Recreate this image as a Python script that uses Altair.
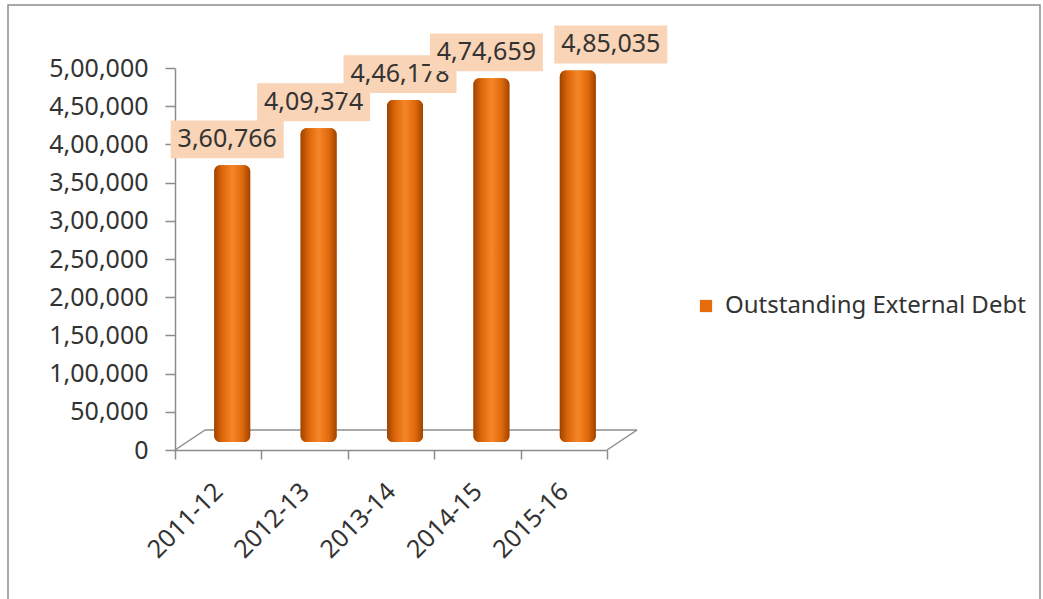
import altair as alt
import pandas as pd

years = ["2011-12", "2012-13", "2013-14", "2014-15", "2015-16"]
debt = [360766, 409374, 446178, 474659, 485035]
series_name = "Outstanding External Debt"
y_ticks = [0, 50000, 100000, 150000, 200000, 250000, 300000, 350000, 400000, 450000, 500000]

df = pd.DataFrame({"year": years, "debt": debt, "series": [series_name] * len(years)})

FONT = "Noto Sans"
TXT = "#333333"
AXIS = "#8c8c8c"


def indian(v):
    return (f"{v} >= 100000 ? floor({v}/100000) + ',' + format(floor({v}/1000) % 100, '02d') + ',' "
            f"+ format({v} % 1000, '03d') : format({v}, ',d')")


x_axis = alt.Axis(labelAngle=-45, labelAlign="right", labelBaseline="middle",
                  labelFont=FONT, labelFontSize=25, labelColor=TXT, labelPadding=28,
                  tickBand="extent", tickSize=9, tickColor=AXIS, domainColor=AXIS,
                  tickWidth=1.5, domainWidth=1.5, labelOverlap=False)
y_axis = alt.Axis(values=y_ticks, tickCount=len(y_ticks) + 1, labelExpr=indian("datum.value"),
                  labelFont=FONT, labelFontSize=25, labelColor=TXT, labelPadding=17, tickSize=10,
                  tickColor=AXIS, domainColor=AXIS, grid=False, tickWidth=1.5,
                  domainWidth=1.5, labelOverlap=False)
x_enc = alt.X("year:N", sort=years, title=None,
              scale=alt.Scale(paddingInner=0, paddingOuter=0), axis=x_axis)
y_scale = alt.Scale(domain=[0, 500000], nice=False)
y_enc = alt.Y("debt:Q", title=None, scale=y_scale, axis=y_axis)
y_bar = alt.Y("debt:Q", title=None, scale=y_scale, axis=y_axis, stack=None)
y2_bar = alt.Y2(datum=0)

deco = alt.Chart(alt.Data(values=[{}]))
frame = deco.mark_rect(fillOpacity=0, stroke="#8c8c8c", strokeWidth=1.5).encode(
    x=alt.value(-167), x2=alt.value(865), y=alt.value(-63), y2=alt.value(560))
floor_back = deco.mark_rule(color=AXIS, strokeWidth=1.5).encode(
    x=alt.value(30), x2=alt.value(462), y=alt.value(362), y2=alt.value(362))
floor_left = deco.mark_rule(color=AXIS, strokeWidth=1.5).encode(
    x=alt.value(0), x2=alt.value(30), y=alt.value(382), y2=alt.value(362))
floor_right = deco.mark_rule(color=AXIS, strokeWidth=1.5).encode(
    x=alt.value(432), x2=alt.value(462), y=alt.value(382), y2=alt.value(362))

base = alt.Chart(df)

bar_style = dict(size=36, xOffset=14, yOffset=-9, y2Offset=-8, cornerRadius=6)

bars_flat = base.mark_bar(**bar_style).encode(
    x=x_enc, y=y_bar, y2=y2_bar,
    color=alt.Color("series:N", scale=alt.Scale(range=["#E46C0A"]),
                    legend=alt.Legend(title=None, orient="none", legendX=519, legendY=226,
                                      padding=0, symbolType="square", symbolSize=150,
                                      symbolStrokeWidth=0, labelFont=FONT, labelFontSize=24,
                                      labelColor=TXT, labelOffset=7, labelLimit=400)))

gradient = alt.Gradient(
    gradient="linear", x1=0, x2=1, y1=0, y2=0,
    stops=[alt.GradientStop(color="#9E4300", offset=0),
           alt.GradientStop(color="#DC660A", offset=0.22),
           alt.GradientStop(color="#F58628", offset=0.5),
           alt.GradientStop(color="#E06A0C", offset=0.78),
           alt.GradientStop(color="#A04400", offset=1)])
bars_grad = base.mark_bar(color=gradient, **bar_style).encode(x=x_enc, y=y_bar, y2=y2_bar)

label_layers = []
for i, yr in enumerate(years):
    dx = 47 if i == len(years) - 1 else 9
    sub = base.transform_filter(alt.datum.year == yr)
    label_layers.append(sub.mark_point(
        shape="M-1,-0.336L1,-0.336L1,0.336L-1,0.336Z", size=12769, filled=True,
        fill="#F9D4B6", opacity=1, strokeWidth=0, xOffset=dx, yOffset=-35).encode(
        x=x_enc, y=y_enc))
    label_layers.append(sub.transform_calculate(lbl=indian("datum.debt")).mark_text(
        font=FONT, fontSize=25, color=TXT, xOffset=dx, yOffset=-35, baseline="middle").encode(
        x=x_enc, y=y_enc, text="lbl:N"))

chart = alt.layer(frame, floor_back, floor_left, floor_right, bars_flat, bars_grad,
                  *label_layers).properties(
    width=432, height=382,
    padding={"left": 175, "top": 68, "right": 436, "bottom": 149},
    autosize=alt.AutoSizeParams(type="none"),
    background="white",
).configure_view(stroke=None)

chart.save("out.html", embed_options={"renderer": "svg", "actions": False})
